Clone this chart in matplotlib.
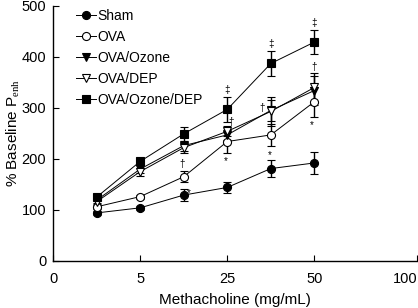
import matplotlib
matplotlib.use("Agg")
import matplotlib.pyplot as plt
from matplotlib.lines import Line2D
import numpy as np

plt.rcParams['font.family'] = ['Liberation Sans', 'DejaVu Sans']
plt.rcParams['mathtext.fontset'] = 'custom'
plt.rcParams['mathtext.rm'] = 'Liberation Serif'

# x positions are categorical-like doses
dose_pos = [0.5, 1.0, 1.5, 2.0, 2.5, 3.0]
tick_pos = [0, 1, 2, 3, 4.18]
tick_labels = ["0", "5", "25", "50", "100"]

sham = [94, 104, 129, 144, 181, 192]
sham_err = [4, 4, 12, 11, 17, 22]
ova = [106, 126, 165, 234, 247, 312]
ova_err = [4, 4, 11, 22, 21, 29]
ova_ozone = [119, 180, 226, 247, 295, 334]
ova_ozone_err = [5, 8, 10, 10, 20, 28]
ova_dep = [116, 175, 222, 254, 293, 340]
ova_dep_err = [5, 8, 10, 10, 28, 28]
ova_ozone_dep = [125, 195, 249, 297, 387, 429]
ova_ozone_dep_err = [5, 6, 13, 25, 24, 23]

labels = ["Sham", "OVA", "OVA/Ozone", "OVA/DEP", "OVA/Ozone/DEP"]

ann_x = [1.48, 1.56, 2.0, 2.04, 1.98, 2.5, 2.40, 2.49, 3.0, 3.0, 2.97]
ann_y = [190, 132, 335, 273, 196, 425, 300, 208, 466, 381, 267]
ann_sym = ["\u2020", "*", "\u2021", "\u2020", "*", "\u2021", "\u2020", "*", "\u2021", "\u2020", "*"]

fig = plt.figure(figsize=(4.18, 3.08), dpi=100)
ax = fig.add_axes([0.127, 0.153, 0.871, 0.828])

series = [
    (sham, sham_err, 'o', 'black'),
    (ova, ova_err, 'o', 'white'),
    (ova_ozone, ova_ozone_err, 'v', 'black'),
    (ova_dep, ova_dep_err, 'v', 'white'),
    (ova_ozone_dep, ova_ozone_dep_err, 's', 'black'),
]
handles = []
for (vals, errs, m, fc), lab in zip(series, labels):
    ax.errorbar(dose_pos, vals, yerr=errs, fmt='-', marker=m, color='black',
                mfc=fc, mec='black', ms=5.8, mew=0.8, lw=0.7, elinewidth=1.0,
                capsize=3, capthick=1.0, zorder=3)
    handles.append(Line2D([], [], color='black', lw=0.7, marker=m, mfc=fc,
                          mec='black', ms=5.8, mew=0.8, label=lab))

for x, y, s in zip(ann_x, ann_y, ann_sym):
    ax.text(x, y, s, ha='center', va='center', fontsize=7)

ax.set_xlim(0, 4.18)
ax.set_ylim(0, 500)
ax.set_xticks(tick_pos)
ax.set_xticklabels(tick_labels, fontsize=10.5)
ax.get_xticklabels()[-1].set_horizontalalignment('right')
ax.set_yticks([0, 100, 200, 300, 400, 500])
ax.tick_params(axis='y', labelsize=10.5, direction='in', length=4, width=0.8, pad=5)
ax.tick_params(axis='x', direction='in', length=4, width=0.8, pad=8)
for s in ['top', 'right']:
    ax.spines[s].set_visible(False)
for s in ['left', 'bottom']:
    ax.spines[s].set_linewidth(1.0)

ax.set_xlabel("Methacholine (mg/mL)", fontsize=11, labelpad=5)
ax.set_ylabel("% Baseline P$_{\\mathrm{enh}}$", fontsize=11)
ax.yaxis.set_label_coords(-0.085, 0.5)

leg = ax.legend(handles=handles, loc='upper left', bbox_to_anchor=(0.045, 1.015),
                frameon=False, fontsize=10, handlelength=1.4, handletextpad=0.1,
                labelspacing=0.5, borderaxespad=0.1)

fig.savefig("out.png", dpi=100)
